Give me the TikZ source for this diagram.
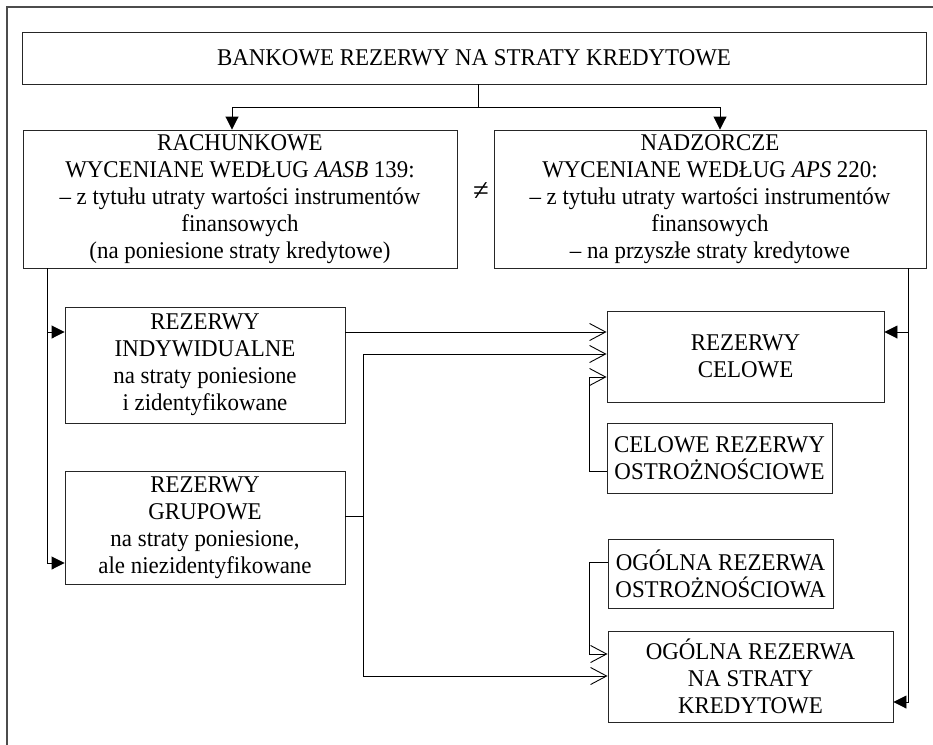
\documentclass[tikz,border=0pt]{standalone}
\usepackage{fontspec}
\setmainfont[FakeStretch=0.955]{Liberation Serif}
\usetikzlibrary{arrows.meta,calc}
\begin{document}
\begin{tikzpicture}[x=1pt,y=-1pt,
  box/.style={draw=black!85,line width=0.9pt,inner sep=0pt,align=center,font=\fontsize{24}{27}\selectfont},
  conn/.style={draw=black,line width=0.9pt},
  tri/.style={conn,-{Triangle[length=13pt,width=13pt]}},
  barb/.style={conn,-{Straight Barb[length=16pt,width=17pt]}},
]
\useasboundingbox (0,0) rectangle (933,744);
\fill[white] (0,0) rectangle (933,744);
% frame
\draw[black!70,line width=1.5pt] (7,760) -- (7,7) -- (950,7);

% boxes
\node[box,minimum width=904pt,minimum height=52pt] (top) at (474,58) {BANKOWE REZERWY NA STRATY KREDYTOWE};
\node[box,minimum width=434pt,minimum height=138pt] (rach) at (240,199) {RACHUNKOWE\\ WYCENIANE WEDŁUG \textit{AASB} 139:\\ – z tytułu utraty wartości instrumentów\\ finansowych\\ (na poniesione straty kredytowe)};
\node[box,minimum width=432pt,minimum height=138pt] (nadz) at (710,199) {NADZORCZE\\ WYCENIANE WEDŁUG \textit{APS} 220:\\ – z tytułu utraty wartości instrumentów\\ finansowych\\ – na przyszłe straty kredytowe};
\node[font=\fontsize{30}{30}\selectfont] (ne) at (481,192) {≠};
\node[box,minimum width=280pt,minimum height=116pt] (indyw) at (205,365) {REZERWY\\ INDYWIDUALNE\\ na straty poniesione\\ i zidentyfikowane};
\node[box,minimum width=280pt,minimum height=113pt] (grup) at (205,527.5) {REZERWY\\ GRUPOWE\\ na straty poniesione,\\ ale niezidentyfikowane};
\node[box,minimum width=277pt,minimum height=91pt] (celowe) at (745.5,356.5) {REZERWY\\ CELOWE};
\node[box,minimum width=225pt,minimum height=70pt] (celost) at (719.5,458) {CELOWE REZERWY\\ OSTROŻNOŚCIOWE};
\node[box,minimum width=225pt,minimum height=69pt] (ogost) at (720.5,573.5) {OGÓLNA REZERWA\\ OSTROŻNOŚCIOWA};
\node[box,minimum width=285pt,minimum height=91pt] (ogstr) at (750.5,676.5) {OGÓLNA REZERWA\\ NA STRATY\\ KREDYTOWE};

% helper coordinates
\coordinate (j) at (478,107);
\coordinate (a1) at (47,332);
\coordinate (a2) at (47,563);
\coordinate (b1) at (908,332);
\coordinate (b2) at (908,702);
\coordinate (r1) at (0,332);
\coordinate (r2) at (0,354);
\coordinate (r3) at (0,377);
\coordinate (r4) at (0,654);
\coordinate (r5) at (0,676);
\coordinate (g) at (363,516);
\coordinate (k1) at (589,471);
\coordinate (k2) at (589,562);

% top split
\draw[conn] (top.south -| j) -- (j);
\draw[tri] (j) -| ([xshift=-8pt]rach.north);
\draw[tri] (j) -| ([xshift=10pt]nadz.north);

% left branch
\draw[tri] (rach.south -| a2) -- (a2) -- (a2 -| grup.west);
\draw[tri] (a1) -- (a1 -| indyw.west);

% right branch
\draw[tri] (nadz.south -| b2) -- (b2) -- (b2 -| ogstr.east);
\draw[tri] (b1) -- (b1 -| celowe.east);

% open arrows
\draw[barb] (indyw.east |- r1) -- (celowe.west |- r1);
\draw[conn] (grup.east |- g) -- (g);
\draw[barb] (g) -- (g |- r2) -- (celowe.west |- r2);
\draw[barb] (g) -- (g |- r5) -- (ogstr.west |- r5);
\draw[barb] (celost.west |- k1) -- (k1) -- (k1 |- r3) -- (celowe.west |- r3);
\draw[barb] (ogost.west |- k2) -- (k2) -- (k2 |- r4) -- (ogstr.west |- r4);
\end{tikzpicture}
\end{document}
